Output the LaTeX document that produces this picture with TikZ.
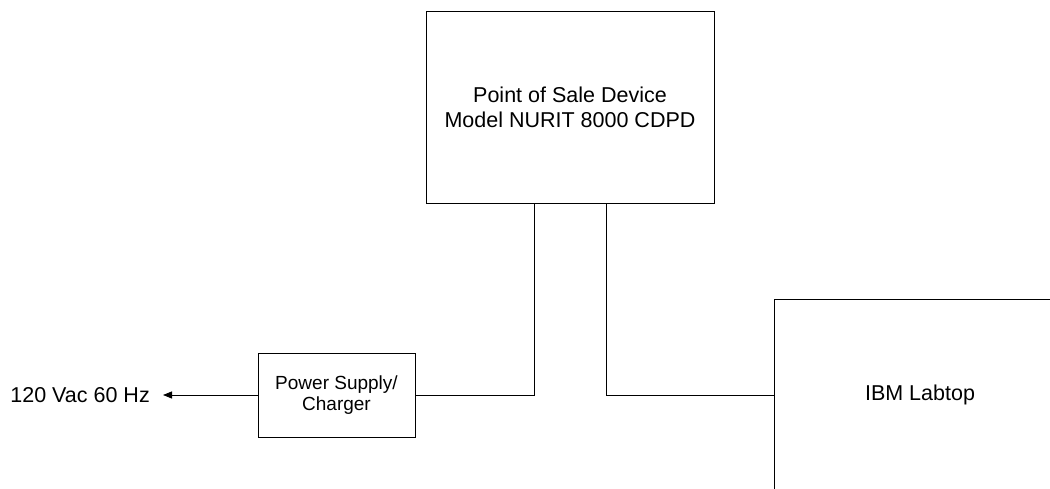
\documentclass[tikz,border=0pt]{standalone}
\usepackage{fontspec}
\setmainfont{Liberation Sans}
\usetikzlibrary{arrows.meta,positioning,calc}

\begin{document}
\begin{tikzpicture}[x=1pt, y=-1pt,
	box/.style={draw, line width=0.8pt, inner sep=0pt, align=center},
	wire/.style={draw, line width=0.8pt},
	big/.style={font=\fontsize{21.5}{25}\selectfont},
	small/.style={font=\fontsize{19}{21.5}\selectfont}]
	\useasboundingbox (0, 0) rectangle (1050, 489);
	\clip (0, 0) rectangle (1050, 489);
	\node[box, big, minimum width=288pt, minimum height=192pt] (pos) at (570, 107) {Point of Sale Device\\Model NURIT 8000 CDPD};
	\node[box, small, minimum width=157pt, minimum height=84pt] (psu) at (336.5, 395) {Power Supply/\\Charger};
	\node[box, big, minimum width=292pt, minimum height=192pt] (laptop) at (920, 395) {IBM Labtop};
	\coordinate (tip) at (163, 395);
	\node[big, inner sep=0pt, left=13pt of tip] (mains) {120 Vac 60 Hz};
	%%%%%
	\draw[wire] ([xshift=-36pt]pos.south) |- (psu);
	\draw[wire] ([xshift=36pt]pos.south) |- (laptop);
	\draw[wire, -{Triangle[length=9pt, width=7pt]}] (psu) -- (tip);
\end{tikzpicture}
\end{document}
